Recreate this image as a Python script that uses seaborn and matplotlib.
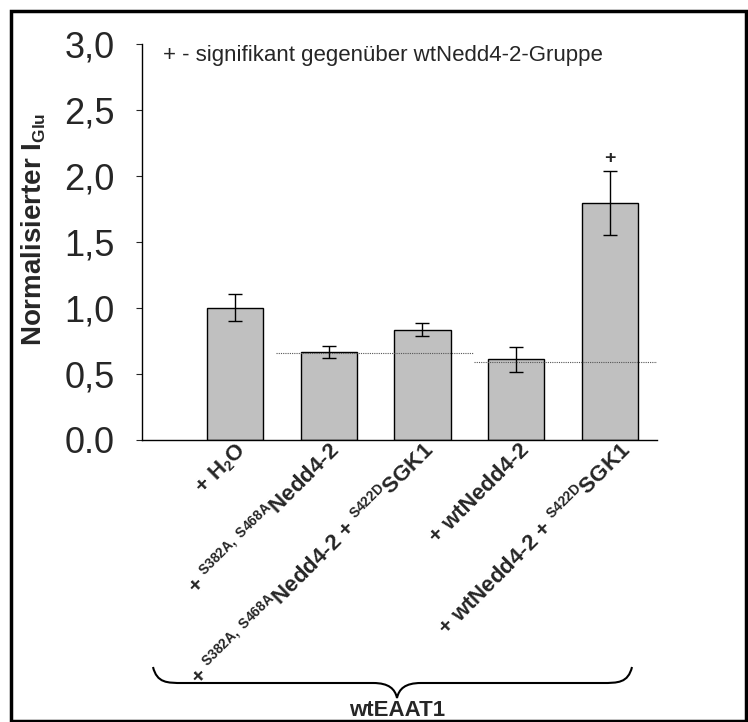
import matplotlib
matplotlib.use("Agg")
import matplotlib.pyplot as plt
import matplotlib._mathtext as mathtext_internals
import matplotlib.transforms as mtransforms
from matplotlib.path import Path
from matplotlib.patches import PathPatch, Rectangle
import pandas as pd
import seaborn as sns

# data
groups = [
    "+ H$_2$O",
    "+ $^{S382A,\\ S468A}$Nedd4-2",
    "+ $^{S382A,\\ S468A}$Nedd4-2 + $^{S422D}$SGK1",
    "+ wtNedd4-2",
    "+ wtNedd4-2 + $^{S422D}$SGK1",
]
means = [1.00, 0.665, 0.833, 0.607, 1.795]
sems = [0.10, 0.045, 0.05, 0.097, 0.245]
ref_levels = [0.658, 0.59]
ytick_values = [0.0, 0.5, 1.0, 1.5, 2.0, 2.5, 3.0]
ytick_labels = ["0.0", "0,5", "1,0", "1,5", "2,0", "2,5", "3,0"]
sig_marks = ["", "", "", "", "+"]

sns.set_theme(style="white")
plt.rcParams["font.family"] = ["Liberation Sans", "DejaVu Sans"]
plt.rcParams["mathtext.fontset"] = "custom"
plt.rcParams["mathtext.rm"] = "Liberation Sans:bold"
plt.rcParams["mathtext.bf"] = "Liberation Sans:bold"
plt.rcParams["mathtext.it"] = "Liberation Sans:bold"
plt.rcParams["mathtext.default"] = "bf"
# the super/subscripts in the original are a bit smaller than mathtext's default
mathtext_internals.SHRINK_FACTOR = 0.62

df = pd.DataFrame({"group": groups, "value": means})

W, H = 748, 722
fig = plt.figure(figsize=(W / 100, H / 100), dpi=100)
ax = fig.add_axes([142 / W, 1 - 439.5 / H, 515 / W, 395.5 / H])

sns.barplot(data=df, x="group", y="value", order=groups, color="#c0c0c0",
            saturation=1, width=0.6, edgecolor="black", linewidth=1.0,
            errorbar=None, ax=ax)
ax.errorbar(range(len(groups)), means, yerr=sems, fmt="none", ecolor="black",
            elinewidth=1.0, capsize=5, capthick=1.0)

# dotted reference lines
ax.hlines(ref_levels[0], 0.44, 2.54, colors="#555555", linestyles=(0, (1, 1)), linewidth=0.8)
ax.hlines(ref_levels[1], 2.55, 4.5, colors="#555555", linestyles=(0, (1, 1)), linewidth=0.8)

for i, mark in enumerate(sig_marks):
    if mark:
        ax.text(i, means[i] + sems[i] + 0.03, mark, ha="center", va="bottom",
                fontsize=14, fontweight="bold")

ax.set_xlim(-0.99, 4.5)
ax.set_ylim(0, 3.0)
ax.set_yticks(ytick_values)
ax.set_yticklabels(ytick_labels, fontsize=26)
ax.tick_params(axis="y", direction="out", length=4.5, width=0.8, pad=15, left=True)
ax.tick_params(axis="x", length=0)
ax.set_xlabel("")
ax.set_ylabel("Normalisierter I$_{Glu}$", fontsize=20, fontweight="bold", labelpad=12)
ax.yaxis.label.set_y(0.532)

ax.set_xticks(range(len(groups)))
ax.set_xticklabels(groups, rotation=45, ha="right", va="top", rotation_mode="anchor",
                   fontsize=16, fontweight="bold")
label_shift_px = [0, 0, 0, 2, 9]
for lbl, dx in zip(ax.get_xticklabels(), label_shift_px):
    offset = mtransforms.ScaledTranslation(dx / 100, 5 / 100, fig.dpi_scale_trans)
    lbl.set_transform(lbl.get_transform() + offset)

for side in ["top", "right"]:
    ax.spines[side].set_visible(False)
for side in ["left", "bottom"]:
    ax.spines[side].set_color("black")
    ax.spines[side].set_linewidth(1.0)

ax.text(0.04, 0.972, "+ - signifikant gegenüber wtNedd4-2-Gruppe", transform=ax.transAxes,
        fontsize=16, ha="left", va="center")

# overlay in pixel coordinates for brace and frame
ov = fig.add_axes([0, 0, 1, 1], facecolor="none")
ov.set_xlim(0, W)
ov.set_ylim(H, 0)
ov.axis("off")
x0, x1, xm = 153, 632, 397
yt, yh, yp = 667, 683, 698
verts = [
    (x0, yt), (x0 + 4, yh), (x0 + 14, yh), (x0 + 30, yh),
    (xm - 24, yh), (xm - 24, yh),
    (xm - 8, yh), (xm - 2, yh + 6), (xm, yp),
    (xm + 2, yh + 6), (xm + 8, yh), (xm + 24, yh),
    (x1 - 30, yh), (x1 - 30, yh),
    (x1 - 14, yh), (x1 - 4, yh), (x1, yt),
]
codes = [Path.MOVETO,
         Path.CURVE4, Path.CURVE4, Path.CURVE4,
         Path.LINETO, Path.LINETO,
         Path.CURVE4, Path.CURVE4, Path.CURVE4,
         Path.CURVE4, Path.CURVE4, Path.CURVE4,
         Path.LINETO, Path.LINETO,
         Path.CURVE4, Path.CURVE4, Path.CURVE4]
ov.add_patch(PathPatch(Path(verts, codes), facecolor="none", edgecolor="black", linewidth=1.5))
ov.text(xm, 711, "wtEAAT1", ha="center", va="center", fontsize=16, fontweight="bold")
ov.add_patch(Rectangle((11.5, 10.5), W - 13, H - 12, facecolor="none", edgecolor="black", linewidth=2.5))

fig.savefig("out.png", dpi=100)
